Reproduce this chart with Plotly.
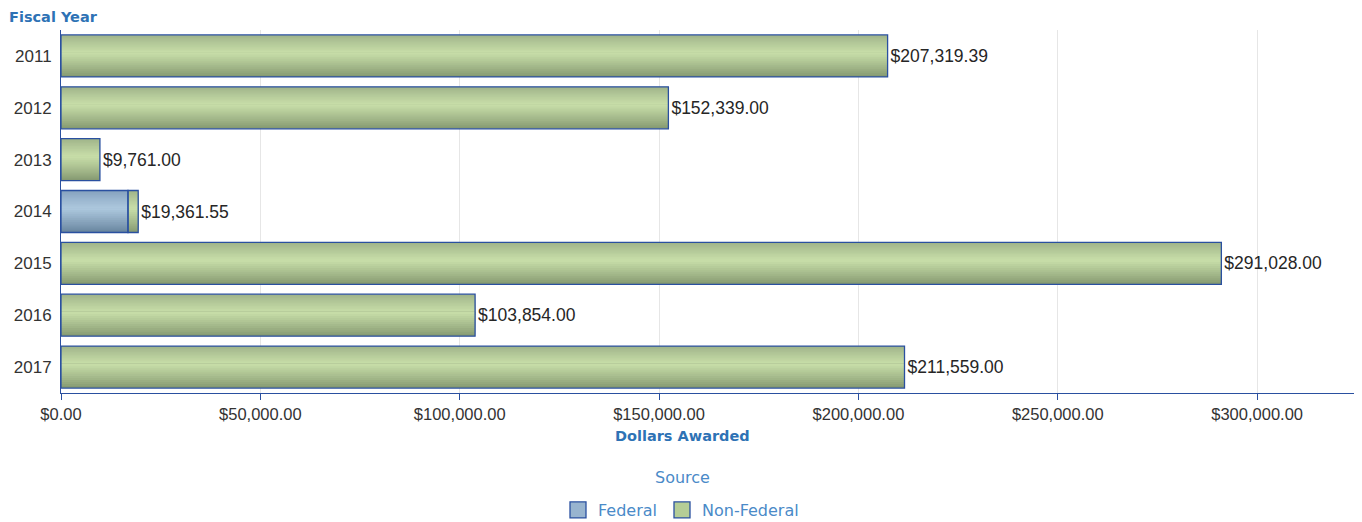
import plotly.graph_objects as go

years = ["2011", "2012", "2013", "2014", "2015", "2016", "2017"]
federal = [None, None, None, 16800.00, None, None, None]
non_federal = [207319.39, 152339.00, 9761.00, 2561.55, 291028.00, 103854.00, 211559.00]
totals = [207319.39, 152339.00, 9761.00, 19361.55, 291028.00, 103854.00, 211559.00]
tick_values = [0, 50000, 100000, 150000, 200000, 250000, 300000]

fed_base = [0 for f in federal]
nf_base = [0 if f is None else f for f in federal]

OUTLINE = "#2a50a0"
BAR_W = 0.81
TITLE_BLUE = "#2e72b5"
LEGEND_BLUE = "#4a8ac8"


def lerp(c1, c2, t):
    a = [int(c1[i:i + 2], 16) for i in (1, 3, 5)]
    b = [int(c2[i:i + 2], 16) for i in (1, 3, 5)]
    return "#" + "".join(f"{round(a[k] + (b[k] - a[k]) * t):02x}" for k in range(3))


def gradient_traces(x, base, top_c, light_c, bot_c, light_pos=0.42, n=12):
    """Layered bars approximating a vertical gradient (reversed y: smaller = higher)."""
    traces = []
    top = -BAR_W / 2
    bot = BAR_W / 2
    mid = top + light_pos * BAR_W
    # upper part: from top edge towards the light band (extends past mid, covered later)
    for k in range(n):
        start = top + (k / n) * (mid - top)
        end = mid + 0.06
        traces.append(go.Bar(
            y=years, x=x, base=base, orientation="h",
            offset=start, width=end - start,
            marker=dict(color=lerp(top_c, light_c, (k / (n - 1)) ** 0.9), line=dict(width=0)),
            showlegend=False, hoverinfo="skip",
        ))
    # lower part: from bottom edge towards the light band
    for k in range(n):
        end = bot - (k / n) * (bot - mid)
        traces.append(go.Bar(
            y=years, x=x, base=base, orientation="h",
            offset=mid, width=end - mid,
            marker=dict(color=lerp(bot_c, light_c, (k / (n - 1)) ** 0.9), line=dict(width=0)),
            showlegend=False, hoverinfo="skip",
        ))
    return traces


fig = go.Figure()
for tr in gradient_traces(federal, fed_base, "#86a2bf", "#abc6dc", "#68859f"):
    fig.add_trace(tr)
for tr in gradient_traces(non_federal, nf_base, "#a0b48a", "#c6dca7", "#869a72"):
    fig.add_trace(tr)

# outlines
fig.add_trace(go.Bar(
    y=years, x=federal, base=fed_base, orientation="h", width=BAR_W,
    marker=dict(color="rgba(0,0,0,0)", line=dict(color=OUTLINE, width=1.3)),
    showlegend=False,
))
fig.add_trace(go.Bar(
    y=years, x=non_federal, base=nf_base, orientation="h", width=BAR_W,
    marker=dict(color="rgba(0,0,0,0)", line=dict(color=OUTLINE, width=1.3)),
    text=[f"${v:,.2f}" for v in totals], textposition="outside",
    textfont=dict(family="Liberation Sans", size=17.5, color="#262626"),
    cliponaxis=False, showlegend=False,
))

# legend entries
fig.add_trace(go.Scatter(y=[None], x=[None], mode="markers", name="Federal",
                         marker=dict(symbol="square", size=16, color="#98b4cf",
                                     line=dict(color=OUTLINE, width=1.3))))
fig.add_trace(go.Scatter(y=[None], x=[None], mode="markers", name="Non-Federal",
                         marker=dict(symbol="square", size=16, color="#b5cd96",
                                     line=dict(color=OUTLINE, width=1.3))))

H = 363
BOT = 385


def py(screen_y):
    return (BOT - (screen_y - 8)) / H


def px(screen_x):
    return ((screen_x - 8) - 53) / 1299


fig.update_layout(
    width=1362, height=522,
    barmode="overlay",
    plot_bgcolor="white", paper_bgcolor="white",
    margin=dict(l=53, r=10, t=22, b=137, autoexpand=False),
    font=dict(family="Liberation Sans", size=16, color="#333333"),
    xaxis=dict(
        range=[0, 325800], tickvals=tick_values, tickformat="$,.2f",
        showgrid=True, gridcolor="#e6e6e6", gridwidth=1,
        showline=True, linecolor=OUTLINE, linewidth=1,
        ticks="outside", ticklen=6, tickcolor=OUTLINE,
        tickfont=dict(size=16.5, color="#333333"), zeroline=False,
        automargin=False,
    ),
    yaxis=dict(
        type="category", categoryorder="array", categoryarray=years,
        autorange="reversed", showline=True, linecolor=OUTLINE, linewidth=1,
        ticks="", tickfont=dict(size=17, color="#333333"), showgrid=False,
        ticklabelstandoff=5, automargin=False,
    ),
    legend=dict(
        orientation="h", x=px(681), xanchor="center", y=py(510), yanchor="middle",
        font=dict(family="DejaVu Sans", size=16, color=LEGEND_BLUE),
        itemsizing="trace",
    ),
    annotations=[
        dict(text="<b>Fiscal Year</b>", xref="paper", yref="paper",
             x=px(7), y=py(17), xanchor="left", yanchor="middle",
             showarrow=False, font=dict(family="DejaVu Sans", size=14.5, color=TITLE_BLUE)),
        dict(text="<b>Dollars Awarded</b>", xref="paper", yref="paper",
             x=px(682), y=py(436), xanchor="center", yanchor="middle",
             showarrow=False, font=dict(family="DejaVu Sans", size=14.5, color=TITLE_BLUE)),
        dict(text="Source", xref="paper", yref="paper",
             x=px(682), y=py(477), xanchor="center", yanchor="middle",
             showarrow=False, font=dict(family="DejaVu Sans", size=16, color=LEGEND_BLUE)),
    ],
)

fig.write_html("out.html")
